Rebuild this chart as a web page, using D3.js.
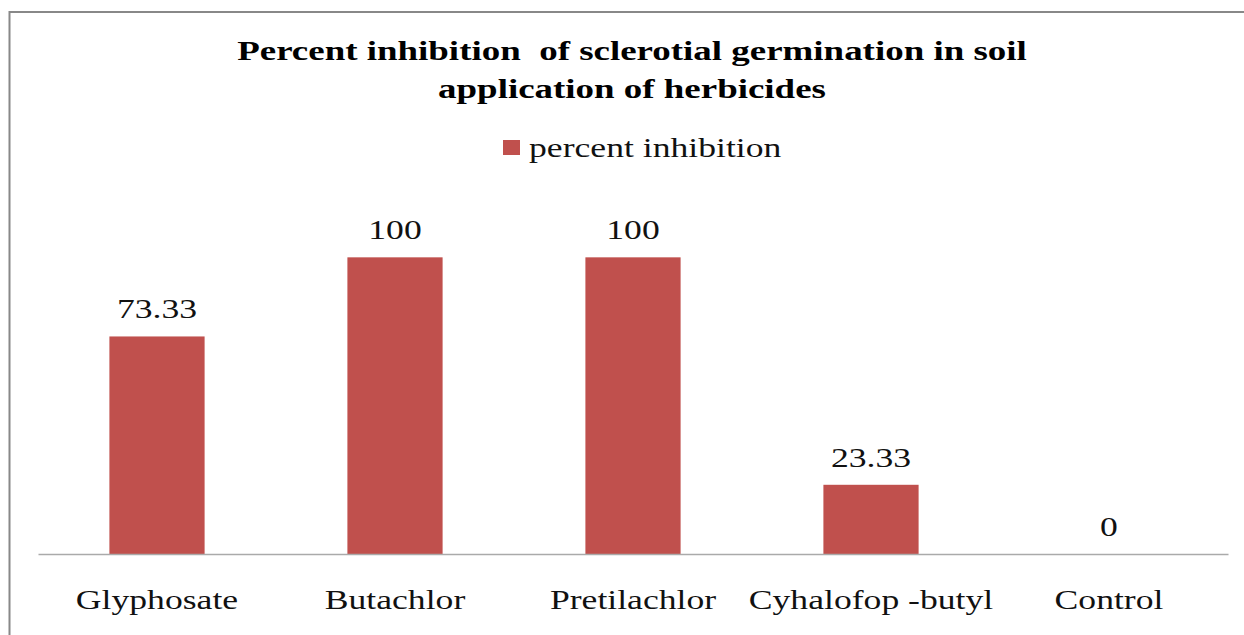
<!DOCTYPE html>
<html>
<head>
<meta charset="utf-8">
<script src="https://cdn.jsdelivr.net/npm/d3@7"></script>
<style>
  html, body { margin: 0; padding: 0; background: #fff; }
  text { font-family: "Liberation Serif", "DejaVu Serif", serif; }
</style>
</head>
<body>
<div id="chart"></div>
<script>
(function(){
    const categories = ['Glyphosate', 'Butachlor', 'Pretilachlor', 'Cyhalofop -butyl', 'Control'];
    const values = [73.33, 100, 100, 23.33, 0];
    const valueLabels = ['73.33', '100', '100', '23.33', '0'];
    const titleLines = ['Percent inhibition  of sclerotial germination in soil', 'application of herbicides'];
    const seriesName = 'percent inhibition';

    const fullWidth = 1244;
    const fullHeight = 635;
    const margin = { top: 198, left: 38, bottom: 81, right: 16 };
    const width = fullWidth - margin.left - margin.right;
    const height = fullHeight - margin.top - margin.bottom;

    // the source picture is stretched sideways, so text is too
    const sx = 1.32;
    const stretched = (x, y) => `translate(${x}, ${y}) scale(${sx}, 1)`;

    const svg = d3.select('#chart')
        .append('svg')
            .attr('width', fullWidth)
            .attr('height', fullHeight);

    // outer chart border (left + top visible)
    svg.append('rect')
        .attr('x', 9.5)
        .attr('y', 12)
        .attr('width', 1260)
        .attr('height', 700)
        .style('fill', 'none')
        .style('stroke', '#888')
        .style('stroke-width', 2);

    svg.selectAll('.title')
        .data(titleLines)
        .join('text')
            .attr('class', 'title')
            .attr('transform', (d, i) => stretched(632, 60 + i * 38))
            .attr('text-anchor', 'middle')
            .style('font-weight', 'bold')
            .style('font-size', '28px')
            .style('white-space', 'pre')
            .attr('xml:space', 'preserve')
            .text(d => d);

    // legend
    const legend = svg.append('g').attr('transform', 'translate(503, 140)');
    legend.append('rect')
        .attr('width', 17)
        .attr('height', 15)
        .style('fill', '#C0504D');
    legend.append('text')
        .attr('transform', stretched(26, 17))
        .style('font-size', '27px')
        .style('fill', '#111')
        .text(seriesName);

    const g = svg.append('g')
        .attr('transform', `translate(${margin.left}, ${margin.top})`);

    const xScale = d3.scaleBand()
        .domain(categories)
        .range([0, width])
        .paddingInner(0.6)
        .paddingOuter(0.3);

    const yScale = d3.scaleLinear()
        .domain([0, 120])
        .range([height, 0]);

    g.selectAll('.bar')
        .data(values)
        .join('rect')
            .attr('class', 'bar')
            .attr('x', (d, i) => xScale(categories[i]))
            .attr('y', d => yScale(d))
            .attr('width', xScale.bandwidth())
            .attr('height', d => height - yScale(d))
            .style('fill', '#C0504D');

    g.selectAll('.val')
        .data(values)
        .join('text')
            .attr('class', 'val')
            .attr('transform', (d, i) => stretched(xScale(categories[i]) + xScale.bandwidth() / 2, yScale(d) - 18))
            .attr('text-anchor', 'middle')
            .style('font-size', '27px')
            .style('fill', '#111')
            .text((d, i) => valueLabels[i]);

    const xAxis = d3.axisBottom(xScale)
        .tickSize(0)
        .tickPadding(36);

    const axisG = g.append('g')
        .attr('transform', `translate(0, ${height})`)
        .call(xAxis);
    axisG.select('.domain').attr('stroke', '#aaa').attr('stroke-width', 1.5);
    axisG.selectAll('.tick text')
        .attr('transform', `scale(${sx}, 1)`)
        .style('font-family', '"Liberation Serif", serif')
        .style('font-size', '27px')
        .style('fill', '#111');
}())
</script>
</body>
</html>
